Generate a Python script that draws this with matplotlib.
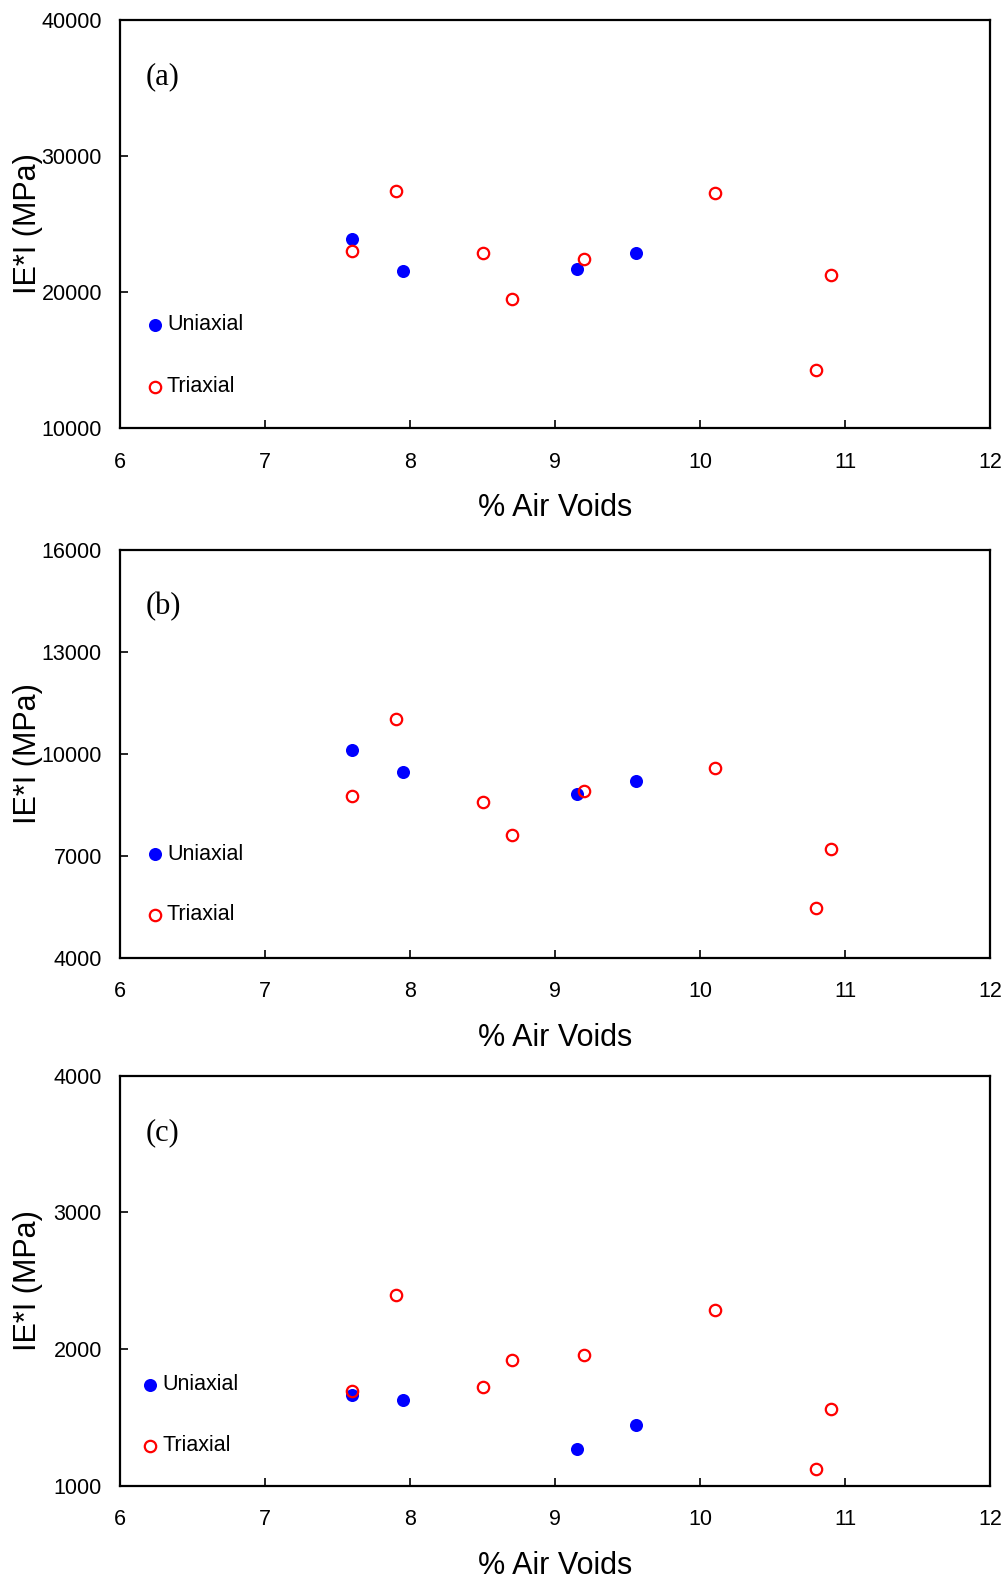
import matplotlib
matplotlib.use('Agg')
import matplotlib.pyplot as plt

plt.rcParams['font.family'] = ['Liberation Sans', 'DejaVu Sans']

# air voids (%)
uni_voids = [7.6, 7.95, 9.15, 9.56]
tri_voids = [7.6, 7.9, 8.5, 8.7, 9.2, 10.1, 10.9, 10.8]

# |E*| (MPa) for the three panels
uni_a = [23900, 21550, 21700, 22870]
tri_a = [23040, 27430, 22870, 19480, 22450, 27280, 21270, 14290]

uni_b = [10110, 9450, 8820, 9190]
tri_b = [8770, 11030, 8570, 7600, 8920, 9570, 7210, 5470]

uni_c = [1660, 1627, 1271, 1444]
tri_c = [1693, 2395, 1724, 1922, 1956, 2288, 1561, 1122]

panel_labels = ['(a)', '(b)', '(c)']
y_limits = [(10000, 40000), (4000, 16000), (1000, 4000)]
y_ticks = [[10000, 20000, 30000, 40000],
           [4000, 7000, 10000, 13000, 16000],
           [1000, 2000, 3000, 4000]]
x_ticks = [6, 7, 8, 9, 10, 11, 12]

fig = plt.figure(figsize=(10.06, 15.78), dpi=100)

# axes positions in figure fraction [left, bottom, width, height]
boxes = [[0.1193, 0.7288, 0.8648, 0.2585],
         [0.1193, 0.3931, 0.8648, 0.2584],
         [0.1193, 0.0585, 0.8648, 0.2598]]
leg_y = [(0.253, 0.101), (0.254, 0.105), (0.246, 0.097)]
leg_x = [0.040, 0.040, 0.035]

uni_sets = [uni_a, uni_b, uni_c]
tri_sets = [tri_a, tri_b, tri_c]

blue_kw = dict(marker='o', color='#0000ff', markersize=9.4,
               markeredgewidth=0, linestyle='none')
red_kw = dict(marker='o', markerfacecolor='none', markeredgecolor='#ff0000',
              markersize=8.2, markeredgewidth=1.6, linestyle='none')

for i in range(3):
    ax = fig.add_axes(boxes[i])
    ax.plot(uni_voids, uni_sets[i], **blue_kw)
    ax.plot(tri_voids, tri_sets[i], **red_kw)

    ax.set_xlim(6, 12)
    ax.set_ylim(*y_limits[i])
    ax.set_xticks(x_ticks)
    ax.set_yticks(y_ticks[i])
    ax.tick_params(axis='both', direction='in', length=6, width=1.2,
                   labelsize=15.5, top=False, right=False)
    ax.tick_params(axis='x', pad=17)
    ax.tick_params(axis='y', pad=13)
    for s in ax.spines.values():
        s.set_linewidth(1.6)

    ax.set_xlabel('% Air Voids', fontsize=22, labelpad=15)
    ax.set_ylabel('IE*I (MPa)', fontsize=22)
    ax.yaxis.set_label_coords(-0.088, 0.5)

    ax.text(0.03, 0.86, panel_labels[i], transform=ax.transAxes,
            fontsize=22, family='Liberation Serif', va='center', ha='left')

    # hand-drawn legend inside the axes
    ax.plot([leg_x[i]], [leg_y[i][0]], transform=ax.transAxes,
            clip_on=False, **blue_kw)
    ax.text(leg_x[i] + 0.014, leg_y[i][0], 'Uniaxial', transform=ax.transAxes,
            fontsize=15.5, va='center', ha='left')
    ax.plot([leg_x[i]], [leg_y[i][1]], transform=ax.transAxes,
            clip_on=False, **red_kw)
    ax.text(leg_x[i] + 0.014, leg_y[i][1], 'Triaxial', transform=ax.transAxes,
            fontsize=15.5, va='center', ha='left')

plt.savefig('out.png', dpi=100)
